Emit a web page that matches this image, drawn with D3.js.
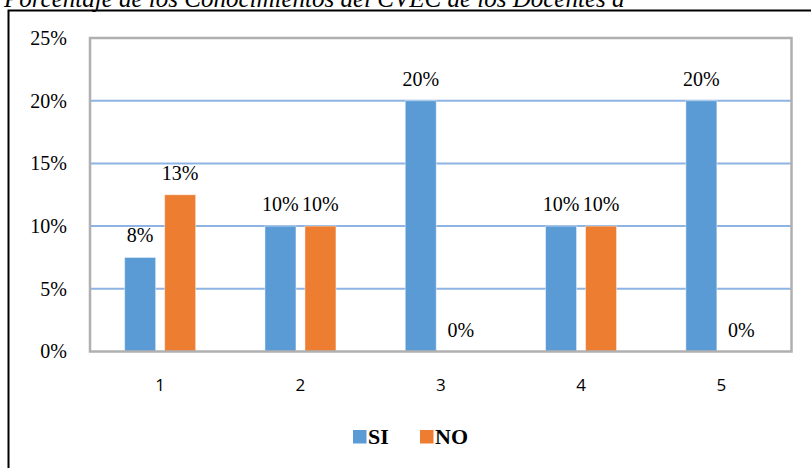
<!DOCTYPE html>
<html>
<head>
<meta charset="utf-8">
<script src="https://cdn.jsdelivr.net/npm/d3@7"></script>
<style>
  body { margin: 0; background: #fff; }
  svg { display: block; }
  .serif { font-family: "Liberation Serif", "Times New Roman", "DejaVu Serif", serif; }
  .sans { font-family: "Open Sans", "Liberation Sans", sans-serif; }
</style>
</head>
<body>
<svg id="chart" width="811" height="468"></svg>
<script>
const width = 811;
const height = 468;

// data
const categories = ["1", "2", "3", "4", "5"];
const siValues = [0.075, 0.10, 0.20, 0.10, 0.20];
const noValues = [0.125, 0.10, 0.00, 0.10, 0.00];
const siLabels = ["8%", "10%", "20%", "10%", "20%"];
const noLabels = ["13%", "10%", "0%", "10%", "0%"];
const yTicks = [0, 0.05, 0.10, 0.15, 0.20, 0.25];
const seriesNames = ["SI", "NO"];
const colors = ["#5b9bd5", "#ed7d31"];

const plot = {left: 90, right: 791.5, top: 38, bottom: 351.5};

const svg = d3.select("#chart");

//------------ title (cut off at the top) and outer frame ----------------//
svg.append("text")
    .attr("class", "serif")
    .attr("x", 4)
    .attr("y", 7)
    .attr("font-style", "italic")
    .attr("font-size", "25px")
    .attr("fill", "#000")
    .text("Porcentaje de los Conocimientos del CVEC de los Docentes a");

svg.append("path")
    .attr("d", `M8.5,${height + 5}V10.5H${width + 5}`)
    .attr("fill", "none")
    .attr("stroke", "#000")
    .attr("stroke-width", 2);

//------------ scales ---------------------------------------------------//
const x = d3.scaleBand()
    .domain(categories)
    .range([plot.left, plot.right]);

const y = d3.scaleLinear()
    .domain([0, 0.25])
    .range([plot.bottom, plot.top]);

const barW = 31;
const barGap = 9;

//------------ gridlines ------------------------------------------------//
svg.append("g")
    .selectAll("line")
    .data(yTicks.filter(t => t > 0 && t < 0.25))
    .join("line")
    .attr("x1", plot.left)
    .attr("x2", plot.right)
    .attr("y1", d => y(d))
    .attr("y2", d => y(d))
    .attr("stroke", "#8db4e2")
    .attr("stroke-width", 2);

//------------ bars -----------------------------------------------------//
const series = [siValues, noValues];
const seriesLabels = [siLabels, noLabels];

series.forEach((vals, s) => {
    const offset = s === 0 ? -(barW + barGap / 2) : barGap / 2;
    svg.append("g")
        .selectAll("rect")
        .data(categories)
        .join("rect")
        .attr("x", (d) => x(d) + x.bandwidth() / 2 + offset)
        .attr("y", (d, i) => y(vals[i]))
        .attr("width", barW)
        .attr("height", (d, i) => y(0) - y(vals[i]))
        .attr("fill", colors[s])
        .attr("stroke", "rgba(255,255,255,0.45)")
        .attr("stroke-width", 1);

    svg.append("g")
        .selectAll("text")
        .data(categories)
        .join("text")
        .attr("class", "serif")
        .attr("x", (d) => x(d) + x.bandwidth() / 2 + offset + barW / 2)
        .attr("y", (d, i) => y(vals[i]) - 15)
        .attr("text-anchor", "middle")
        .attr("font-size", "20px")
        .attr("fill", "#000")
        .text((d, i) => seriesLabels[s][i]);
});

//------------ plot frame -----------------------------------------------//
svg.append("rect")
    .attr("x", plot.left)
    .attr("y", plot.top)
    .attr("width", plot.right - plot.left)
    .attr("height", plot.bottom - plot.top)
    .attr("fill", "none")
    .attr("stroke", "#b0b0b0")
    .attr("stroke-width", 2.5);

//------------ axes -----------------------------------------------------//
const yAxis = svg.append("g")
    .attr("transform", `translate(${plot.left},0)`)
    .call(d3.axisLeft(y).tickValues(yTicks).tickFormat(d3.format(".0%")).tickSize(0).tickPadding(23));
yAxis.select(".domain").remove();
yAxis.attr("font-family", null);
yAxis.selectAll("text")
    .attr("class", "serif")
    .attr("font-size", "20px")
    .attr("fill", "#000");

const xAxis = svg.append("g")
    .attr("transform", `translate(0,${plot.bottom})`)
    .call(d3.axisBottom(x).tickSize(0).tickPadding(27));
xAxis.select(".domain").remove();
xAxis.attr("font-family", null);
xAxis.selectAll("text")
    .attr("class", "sans")
    .attr("font-size", "17px")
    .attr("fill", "#000");

//------------ legend ---------------------------------------------------//
const legendItems = [
    {name: seriesNames[0], color: colors[0], x: 353},
    {name: seriesNames[1], color: colors[1], x: 420}
];
const legend = svg.append("g")
    .selectAll("g")
    .data(legendItems)
    .join("g")
    .attr("transform", d => `translate(${d.x},430)`);

legend.append("rect")
    .attr("width", 13.5)
    .attr("height", 13.5)
    .attr("fill", d => d.color);

legend.append("text")
    .attr("class", "serif")
    .attr("x", 15)
    .attr("y", 14)
    .attr("font-weight", "bold")
    .attr("font-size", "22px")
    .attr("fill", "#000")
    .text(d => d.name);
</script>
</body>
</html>
